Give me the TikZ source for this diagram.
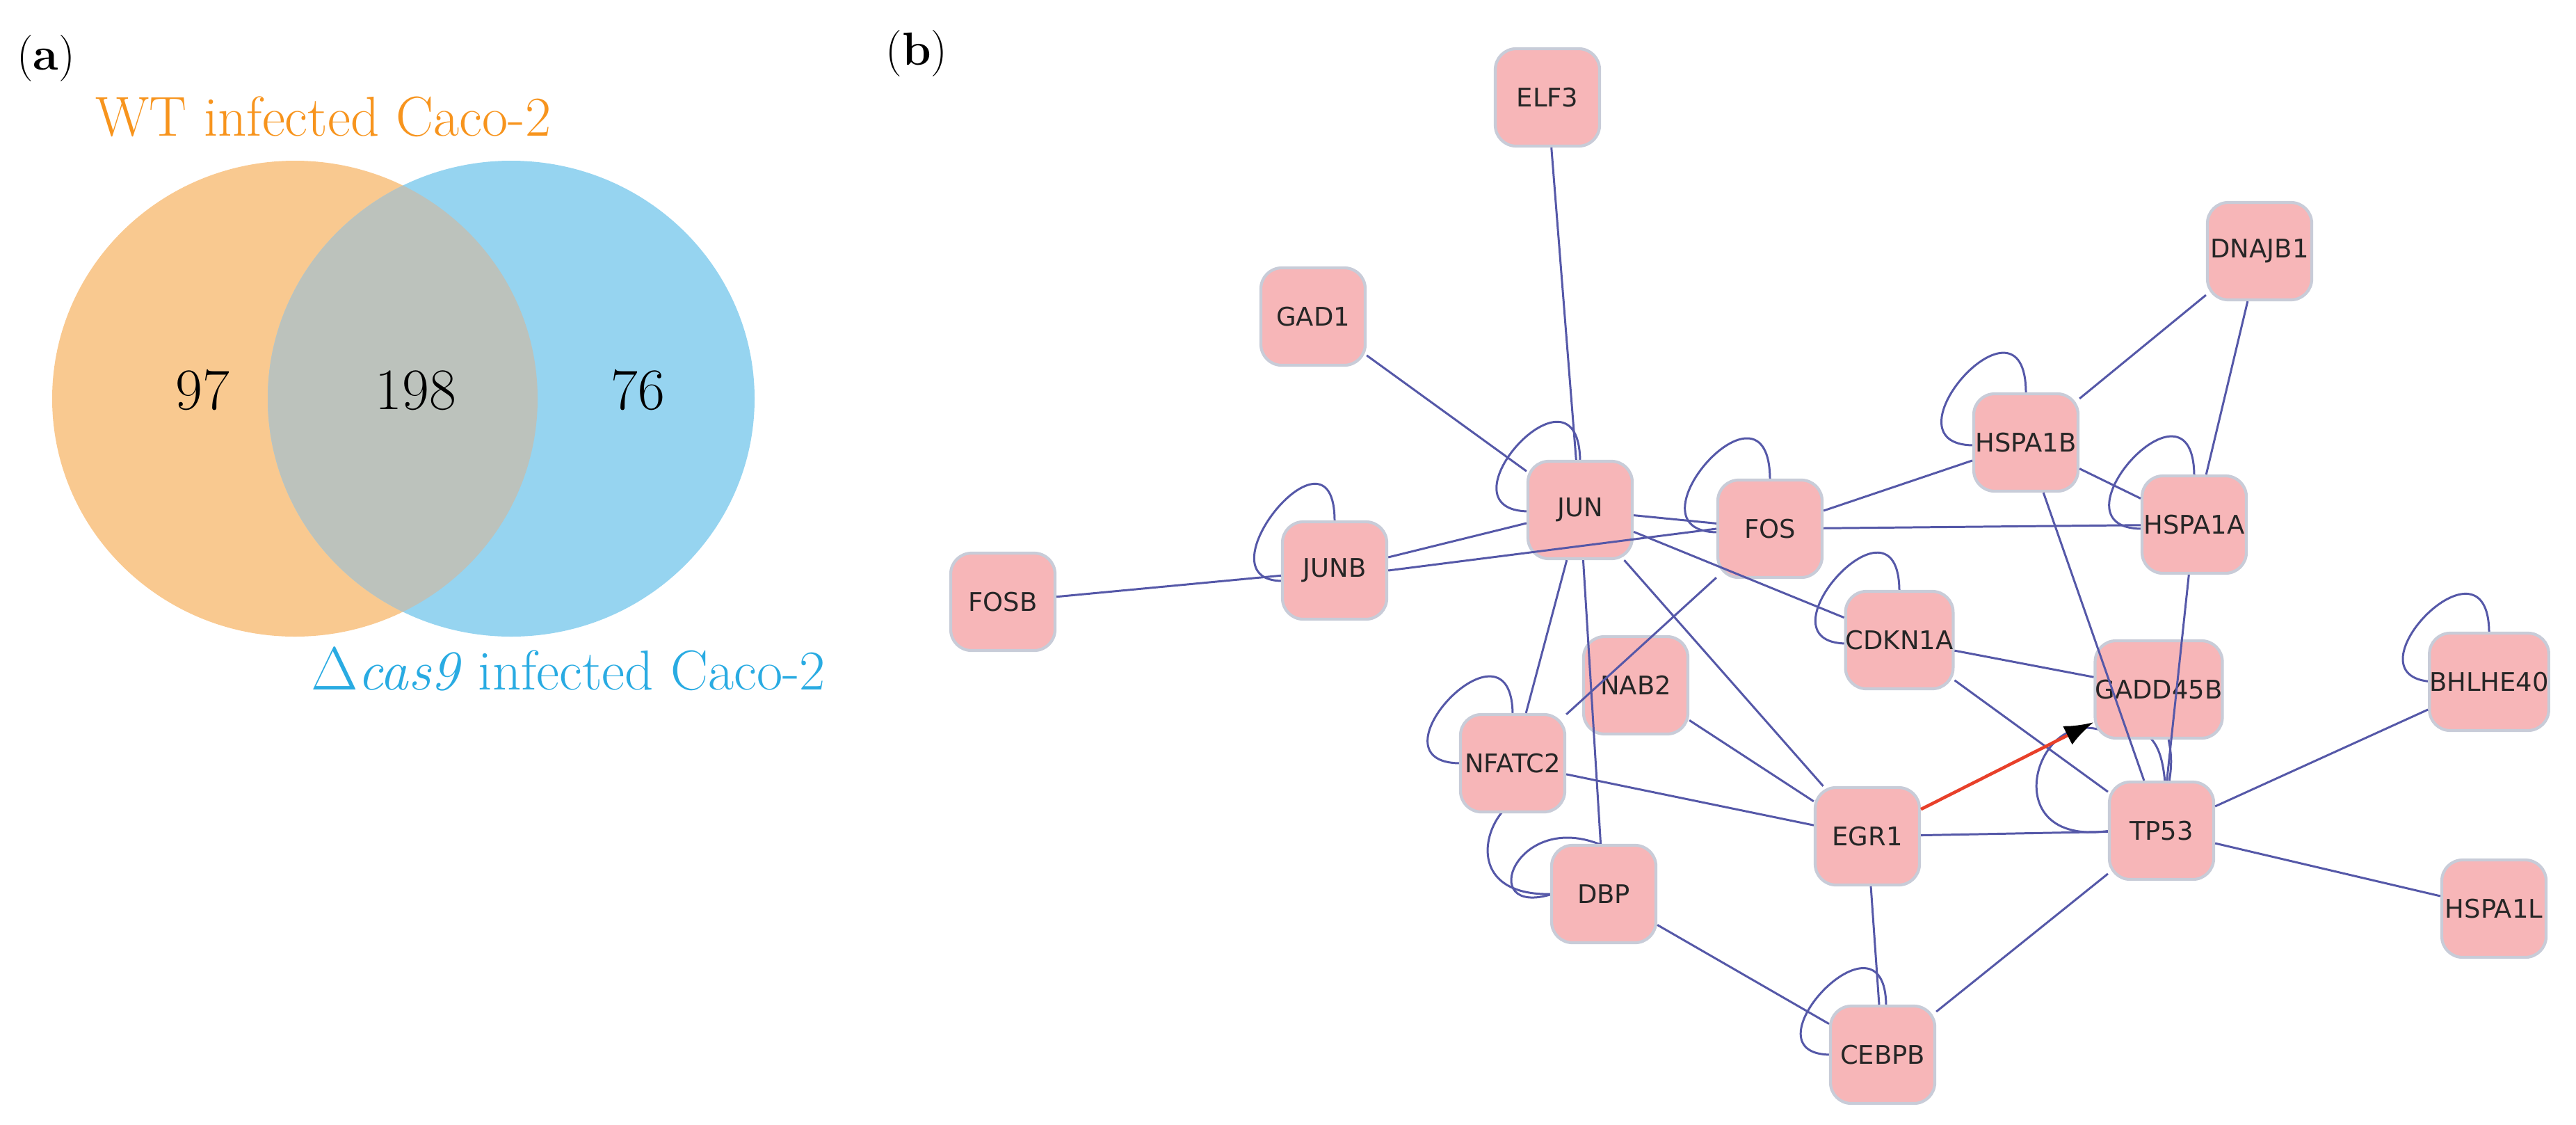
\documentclass[tikz,border=0pt]{standalone}
\usepackage{fontspec}
\newfontfamily\nodefont{DejaVu Sans}
\usetikzlibrary{arrows.meta}
\definecolor{vorange}{HTML}{F9C990}
\definecolor{vblue}{HTML}{96D4F0}
\definecolor{vgray}{HTML}{BCC2BC}
\definecolor{torange}{HTML}{F7941D}
\definecolor{tblue}{HTML}{29ABE2}
\definecolor{npink}{HTML}{F7B6B8}
\definecolor{nborder}{HTML}{C8CCD8}
\definecolor{edgec}{HTML}{5558A8}
\definecolor{redc}{HTML}{E8402A}
\tikzset{
  gene/.style={draw=nborder, line width=1.2pt, fill=npink, rounded corners=0.3cm,
    minimum width=1.5cm, minimum height=1.4cm, inner sep=0pt,
    font=\nodefont\fontsize{10.5}{12}\selectfont, text=black!85},
  e/.style={draw=edgec, line width=0.85pt},
  loopc/.style={e},
  num/.style={font=\fontsize{24}{28}\selectfont},
  lab/.style={font=\fontsize{23}{27}\selectfont},
  plab/.style={font=\fontsize{19}{22}\selectfont}
}
\begin{document}
\begin{tikzpicture}
\useasboundingbox (0,0) rectangle (37.04,-16.16);
% ---------- (a) Venn ----------
\node[plab] (la) at (0.66,-0.84) {(\textbf{a})};
\fill[vorange] (4.24,-5.73) ellipse (3.49cm and 3.42cm);
\fill[vblue] (7.35,-5.73) ellipse (3.50cm and 3.42cm);
\begin{scope}
\clip (4.24,-5.73) ellipse (3.49cm and 3.42cm);
\fill[vgray] (7.35,-5.73) ellipse (3.50cm and 3.42cm);
\end{scope}
\node[lab, text=torange] (wt) at (4.65,-1.68) {WT infected Caco-2};
\node[lab, text=tblue] (dc) at (8.17,-9.62) {$\Delta$\textit{cas9} infected Caco-2};
\node[num] (n97) at (2.91,-5.61) {97};
\node[num] (n198) at (5.98,-5.61) {198};
\node[num] (n76) at (9.17,-5.61) {76};
% ---------- (b) network ----------
\node[plab] (lb) at (13.18,-0.77) {(\textbf{b})};
% self loops (drawn below nodes)
\coordinate (ELF3c) at (22.25,-1.40);
\draw[loopc] (22.72,-6.65) .. controls (22.72,-5.0) and (20.6,-7.35) .. (21.99,-7.35);
\draw[loopc] (19.19,-7.49) .. controls (19.19,-5.9) and (17.2,-8.35) .. (18.44,-8.35);
\draw[loopc] (25.45,-6.90) .. controls (25.45,-5.2) and (23.3,-7.65) .. (24.70,-7.65);
\draw[loopc] (29.13,-5.65) .. controls (29.13,-4.0) and (27.0,-6.40) .. (28.38,-6.40);
\draw[loopc] (31.55,-6.85) .. controls (31.55,-5.2) and (29.4,-7.60) .. (30.80,-7.60);
\draw[loopc] (27.31,-8.50) .. controls (27.31,-6.9) and (25.2,-9.25) .. (26.56,-9.25);
\draw[loopc] (21.75,-10.28) .. controls (21.75,-8.7) and (19.6,-10.97) .. (21.00,-10.97);
\draw[loopc] (35.79,-9.10) .. controls (35.79,-7.5) and (33.6,-9.80) .. (35.04,-9.80);
\draw[loopc] (27.12,-14.47) .. controls (27.12,-12.9) and (25.0,-15.16) .. (26.33,-15.16);
\draw[loopc] (23.06,-12.16) .. controls (21.8,-11.6) and (21.2,-13.2) .. (22.32,-12.85);
\draw[loopc] (22.32,-12.85) .. controls (20.6,-12.9) and (21.7,-10.9) .. (22.20,-11.66);
\draw[loopc] (30.34,-11.94) .. controls (28.6,-12.2) and (29.3,-10.0) .. (30.34,-10.55);
\draw[loopc] (30.40,-10.60) .. controls (31.0,-10.3) and (31.10,-10.9) .. (31.13,-11.25);
% nodes
\node[gene] (ELF3) at (22.25,-1.40) {ELF3};
\node[gene] (GAD1) at (18.88,-4.55) {GAD1};
\node[gene] (JUNB) at (19.19,-8.20) {JUNB};
\node[gene] (FOSB) at (14.42,-8.65) {FOSB};
\node[gene] (JUN) at (22.72,-7.33) {JUN};
\node[gene] (FOS) at (25.45,-7.60) {FOS};
\node[gene] (DNAJB1) at (32.49,-3.61) {DNAJB1};
\node[gene] (HSPA1B) at (29.13,-6.36) {HSPA1B};
\node[gene] (HSPA1A) at (31.55,-7.54) {HSPA1A};
\node[gene] (CDKN1A) at (27.31,-9.20) {CDKN1A};
\node[gene] (GADD45B) at (31.04,-9.91) {GADD45B};
\node[gene] (BHLHE40) at (35.79,-9.80) {BHLHE40};
\node[gene] (EGR1) at (26.85,-12.02) {EGR1};
\node[gene] (TP53) at (31.08,-11.94) {TP53};
\node[gene] (HSPA1L) at (35.86,-13.06) {HSPA1L};
\node[gene] (CEBPB) at (27.07,-15.16) {CEBPB};
\node[gene] (NAB2) at (23.52,-9.85) {NAB2};
\node[gene] (NFATC2) at (21.75,-10.97) {NFATC2};
\node[gene] (DBP) at (23.06,-12.85) {DBP};
% edges
\draw[e] (ELF3) -- (JUN);
\draw[e] (GAD1) -- (JUN);
\draw[e] (FOSB) -- (JUNB);
\draw[e] (JUNB) -- (JUN);
\draw[e] (JUNB.east) -- (FOS.west);
\draw[e] (JUN) -- (FOS);
\draw[e] (JUN) -- (CDKN1A);
\draw[e] (JUN) -- (NFATC2);
\draw[e] (JUN) -- (DBP);
\draw[e] (JUN) -- (EGR1);
\draw[e] (FOS) -- (NFATC2);
\draw[e] (FOS) -- (HSPA1B);
\draw[e] (FOS) -- (HSPA1A);
\draw[e] (HSPA1B) -- (DNAJB1);
\draw[e] (HSPA1B) -- (HSPA1A);
\draw[e] (HSPA1B) -- (TP53);
\draw[e] (DNAJB1) -- (HSPA1A);
\draw[e] (HSPA1A) -- (TP53);
\draw[e] (CDKN1A) -- (GADD45B);
\draw[e] (CDKN1A) -- (TP53);
\draw[e] (GADD45B) to[bend left=10] (TP53);
\draw[e] (NAB2) -- (EGR1);
\draw[e] (NFATC2) -- (EGR1);
\draw[e] (EGR1) -- (TP53);
\draw[e] (EGR1) -- (CEBPB);
\draw[e] (DBP) -- (CEBPB);
\draw[e] (CEBPB) -- (TP53);
\draw[e] (TP53) -- (BHLHE40);
\draw[e] (TP53) -- (HSPA1L);
\draw[draw=redc, line width=1.3pt, -{Latex[length=0.42cm,width=0.3cm,color=black]}] (EGR1) -- (GADD45B);
\end{tikzpicture}
\end{document}
